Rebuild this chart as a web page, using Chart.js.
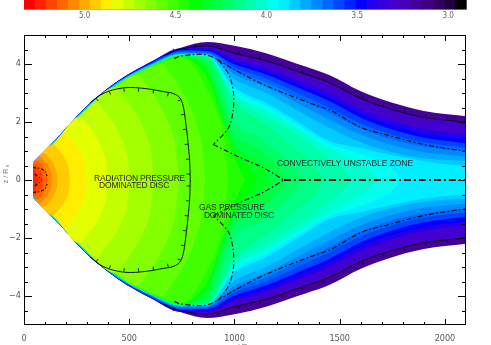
<!DOCTYPE html>
<html><head><meta charset="utf-8">
<script src="https://cdn.jsdelivr.net/npm/chart.js@4.4.1/dist/chart.umd.min.js"></script>
<style>
html,body{margin:0;padding:0;background:#fff;}
#wrap{position:relative;width:491px;height:345px;overflow:hidden;}
canvas{position:absolute;left:0;top:0;}
</style></head><body>
<div id="wrap"><canvas id="main" width="491" height="345"></canvas><canvas id="cb" width="491" height="24"></canvas></div>
<script>
// ---------- tick labels ----------
const xTickValues = [0, 500, 1000, 1500, 2000];
const xTickLabels = ['0', '500', '1000', '1500', '2000'];
const yTickValues = [-4, -2, 0, 2, 4];
const yTickLabels = ['\u22124', '\u22122', '0', '2', '4'];
const cbTickValues = [5.0, 4.5, 4.0, 3.5, 3.0];
const cbTickLabels = ['5.0', '4.5', '4.0', '3.5', '3.0'];

// ---------- colour bar (level edges, high -> low) ----------
const cbLevels = [5.334,5.273,5.212,5.151,5.090,5.030,4.969,4.908,4.847,4.786,4.725,4.664,4.603,4.542,4.481,4.421,4.360,4.299,4.238,4.177,4.116,4.055,3.994,3.933,3.872,3.812,3.751,3.690,3.629,3.568,3.507,3.446,3.385,3.324,3.263,3.203,3.142,3.081,3.020,2.959,2.898];
const cbColors = ['#ff0000','#ff2200','#ff4400','#ff6600','#ff8800','#ffaa00','#ffcc00','#ffee00','#e4ff00','#c4ff00','#a4ff00','#84ff00','#62ff00','#42ff00','#22ff00','#00ff00','#00ff22','#00ff44','#00ff66','#00ff88','#00ffaa','#00ffcc','#00ffee','#00eeff','#00ccff','#00aaff','#0088ff','#0066ff','#0044ff','#0022ff','#0000ff','#2200ee','#3300dd','#4400cc','#4800b4','#46009a','#3e0080','#320062','#1e0040','#000000'];

// ---------- outer shell contours (upper half, z at rGrid) ----------
const rGrid = [43,150,300,450,600,750,870,1000,1150,1300,1450,1600,1750,1900,2100];
const zEnv = [0.6,1.39,2.56,3.43,4.06,4.57,4.76,4.63,4.37,4.0,3.62,3.06,2.66,2.38,2.2];
const zL33 = [0.6,1.39,2.56,3.43,4.06,4.56,4.62,4.37,4.11,3.74,3.36,2.81,2.43,2.16,2.0];
const zL31 = [0.6,1.39,2.56,3.43,4.06,4.555,4.55,4.17,3.86,3.44,3.01,2.45,2.04,1.76,1.57];
const zL30 = [0.6,1.39,2.56,3.42,4.05,4.52,4.5,4.07,3.74,3.29,2.84,2.28,1.89,1.61,1.43];
const zL28 = [0.6,1.39,2.55,3.41,4.03,4.47,4.45,3.99,3.64,3.19,2.72,2.15,1.74,1.46,1.27];
const zL27 = [0.6,1.385,2.545,3.4,3.99,4.43,4.42,3.88,3.49,3.0,2.49,1.94,1.56,1.29,1.12];
const zL26 = [0.6,1.38,2.54,3.39,3.98,4.4,4.38,3.76,3.36,2.84,2.32,1.78,1.4,1.15,0.99];
const zL25 = [0.6,1.375,2.53,3.38,3.97,4.37,4.35,3.65,3.21,2.65,2.09,1.56,1.2,0.96,0.82];
const zL24 = [0.59,1.37,2.52,3.37,3.96,4.35,4.32,3.48,3.0,2.4,1.8,1.3,0.96,0.75,0.65];
const zL23 = [0.585,1.36,2.51,3.36,3.95,4.33,4.3,3.2,2.66,2.01,1.35,1.1,0.85,0.65,0.48];

// ---------- inner contours (upper half, [r, z]) ----------
const L22 = [[43,0.58],[150,1.355],[300,2.505],[450,3.355],[600,3.945],[750,4.325],[870,4.29],[1000,3.12],[1150,2.55],[1300,1.9],[1450,1.25],[1600,0.9],[1700,0.6],[1760,0.3],[1790,0]];
const L21 = [[43,0.575],[150,1.35],[300,2.5],[450,3.35],[600,3.94],[750,4.32],[870,4.28],[1000,2.97],[1150,2.4],[1300,1.75],[1450,1.1],[1550,0.72],[1640,0.32],[1681,0]];
const L20 = [[43,0.57],[150,1.345],[300,2.495],[450,3.345],[600,3.935],[750,4.315],[870,4.27],[1000,2.82],[1150,2.2],[1300,1.55],[1420,0.9],[1510,0.4],[1552,0]];
const L19 = [[43,0.565],[150,1.34],[300,2.49],[450,3.34],[600,3.93],[750,4.31],[870,4.26],[1000,2.68],[1150,1.9],[1280,1.15],[1380,0.5],[1424,0]];
const L18 = [[43,0.56],[150,1.335],[300,2.485],[450,3.335],[600,3.925],[750,4.305],[870,4.24],[1000,2.03],[1120,1.45],[1230,0.8],[1290,0.35],[1314,0]];
const L17 = [[43,0.555],[150,1.33],[300,2.48],[450,3.33],[600,3.92],[750,4.3],[810,4.25],[870,4.08],[1000,1.6],[1100,1.15],[1190,0.6],[1250,0]];
const L16 = [[43,0.55],[150,1.325],[300,2.475],[450,3.325],[600,3.915],[750,4.29],[810,4.2],[870,3.9],[1000,1.25],[1100,0.72],[1150,0.35],[1171,0]];
const L15 = [[43,0.55],[150,1.32],[300,2.47],[450,3.32],[600,3.91],[750,4.28],[810,4.15],[870,3.7],[1000,0.95],[1070,0.45],[1110,0]];
const L14 = [[43,0.55],[150,1.315],[300,2.465],[450,3.315],[600,3.905],[750,4.27],[810,4.05],[870,3.55],[960,1.7],[1010,0.6],[1050,0]];
const L13 = [[43,0.55],[150,1.31],[300,2.46],[450,3.31],[600,3.9],[750,4.25],[800,3.99],[870,3.12],[920,2.25],[955,1.26],[971,0]];
const L12 = [[43,0.55],[150,1.31],[300,2.46],[450,3.3],[600,3.89],[655,4.0],[700,3.64],[760,2.94],[810,2.13],[845,1.23],[862,0]];
const L11 = [[43,0.55],[150,1.31],[300,2.46],[450,3.3],[538,3.64],[580,3.30],[630,2.78],[680,2.08],[715,1.33],[738,0]];
const L10 = [[43,0.55],[150,1.31],[300,2.46],[431,3.2],[470,2.92],[520,2.43],[570,1.75],[600,1.10],[619,0]];
const L9  = [[43,0.55],[150,1.31],[300,2.46],[341,2.69],[380,2.41],[420,2.03],[460,1.51],[490,0.88],[505,0]];
const L8  = [[43,0.55],[150,1.31],[262,2.17],[300,1.92],[340,1.53],[370,1.10],[390,0.64],[400,0]];
const L7  = [[43,0.55],[150,1.31],[194,1.64],[220,1.46],[250,1.18],[275,0.84],[290,0.52],[299,0]];
const L6  = [[43,0.55],[138,1.22],[160,1.08],[180,0.90],[200,0.65],[212,0.40],[219,0]];
const L5  = [[43,0.55],[96,0.92],[115,0.80],[130,0.67],[145,0.48],[155,0.27],[160,0]];
const L4  = [[43,0.55],[76,0.79],[95,0.68],[110,0.55],[122,0.39],[130,0.21],[133,0]];
const L3  = [[43,0.55],[61,0.68],[75,0.60],[90,0.48],[100,0.36],[108,0.21],[112,0]];
const L2  = [[43,0.55],[55,0.52],[65,0.46],[75,0.37],[85,0.23],[90,0]];
const L1  = [[43,0.38],[50,0.335],[55,0.29],[60,0.23],[65,0.15],[68,0]];

// ---------- line contours (upper half) ----------
const photoLine = [[665,4.28],[700,4.4],[750,4.52],[870,4.62],[1000,4.37],[1150,4.11],[1300,3.74],[1450,3.36],[1600,2.81],[1750,2.43],[1900,2.16],[2100,2.0]];
const radLine = [[314,2.66],[360,2.92],[420,3.1],[505,3.19],[600,3.13],[660,3.05],[719,2.95],[745,2.78],[757,2.53],[768,2.0],[781,1.16],[788,0.5],[790,0]];
const convA = [[714,4.19],[743,4.27],[800,4.32],[853,4.33],[917,4.16],[955,3.85],[981,3.5],[996,2.95],[993,2.37],[972,1.8],[900,1.22]];
const convA2 = [[900,1.22],[1013,0.82],[1139,0.42],[1235,0]];
const convB = [[917,4.16],[1013,3.75],[1139,3.29],[1252,2.95],[1377,2.6],[1457,2.4],[1600,1.81],[1727,1.55],[1917,1.2],[2100,0.99]];
const convMid = [[1235,0],[2100,0]];
const coreArc = [[44,0.42],[75,0.40],[100,0.30],[110,0.14]];
const coreV = [[52,0.2],[85,0.03]];

// ---------- build ----------
const grid = z => rGrid.map((r, i) => [r, z[i]]);
const fillLevels = [
  {p: grid(zEnv), c: 35}, {p: grid(zL33), c: 33}, {p: grid(zL31), c: 31}, {p: grid(zL30), c: 30},
  {p: grid(zL28), c: 28}, {p: grid(zL27), c: 27}, {p: grid(zL26), c: 26}, {p: grid(zL25), c: 25},
  {p: grid(zL24), c: 24}, {p: grid(zL23), c: 23},
  {p: L22, c: 22}, {p: L21, c: 21}, {p: L20, c: 20}, {p: L19, c: 19}, {p: L18, c: 18},
  {p: L17, c: 17}, {p: L16, c: 16}, {p: L15, c: 15}, {p: L14, c: 14}, {p: L13, c: 13},
  {p: L12, c: 12}, {p: L11, c: 11}, {p: L10, c: 10}, {p: L9, c: 9}, {p: L8, c: 8},
  {p: L7, c: 7}, {p: L6, c: 6}, {p: L5, c: 5}, {p: L4, c: 4}, {p: L3, c: 3}, {p: L2, c: 2}, {p: L1, c: 1}
];
const xy = (pts, s) => pts.map(q => ({x: q[0], y: s * q[1]}));
const datasets = [];
fillLevels.forEach((lv, k) => {
  [1, -1].forEach(s => datasets.push({
    data: xy(lv.p, s), backgroundColor: cbColors[lv.c], borderColor: 'rgba(0,0,0,0)', borderWidth: 0,
    pointRadius: 0, fill: 'origin', cubicInterpolationMode: 'monotone', order: 200 - k
  }));
});
const DASH = [5, 2.5, 1.5, 2.5];
function lineDs(pts, s, extra) {
  return Object.assign({data: xy(pts, s), borderColor: '#000', borderWidth: 0.9, pointRadius: 0, fill: false,
    cubicInterpolationMode: 'monotone', order: 0}, extra || {});
}
[1, -1].forEach(s => {
  datasets.push(lineDs(photoLine, s, {tickSpec: {spacing: 22, len: 3, side: -s}}));
  datasets.push(lineDs(radLine, s, {tickSpec: {spacing: 15, len: 3.5, side: s}}));
  datasets.push(lineDs(convA, s, {borderDash: DASH, borderWidth: 1.1, cubicInterpolationMode: 'default', tension: 0.3}));
  datasets.push(lineDs(convA2, s, {borderDash: DASH, borderWidth: 1.1, cubicInterpolationMode: 'default', tension: 0}));
  datasets.push(lineDs(convB, s, {borderDash: DASH, borderWidth: 1.1}));
  datasets.push(lineDs(coreArc, s, {borderDash: [3, 2, 1, 2], borderWidth: 1.1, cubicInterpolationMode: 'default', tension: 0.3}));
  datasets.push(lineDs(coreV, s, {borderDash: [3, 2, 1, 2], borderWidth: 1.1, tension: 0}));
});
datasets.push(lineDs(convMid, 1, {borderDash: [7, 3, 2, 3], borderWidth: 2, tension: 0}));

const textLabels = [
  {t: 'RADIATION PRESSURE', r: 549, z: 0.06, w: 91},
  {t: 'DOMINATED DISC', r: 523, z: -0.21, w: 70},
  {t: 'GAS PRESSURE', r: 988, z: -0.95, w: 66},
  {t: 'DOMINATED DISC', r: 1021, z: -1.24, w: 70},
  {t: 'CONVECTIVELY UNSTABLE ZONE', r: 1525, z: 0.55, w: 136}
];

const FONT = '"Liberation Sans Narrow", "DejaVu Sans Condensed", "Liberation Sans", sans-serif';

function contourTicks(ctx, pts, spacing, len, side) {
  let acc = spacing / 2;
  for (let i = 0; i < pts.length - 1; i++) {
    const a = pts[i], b = pts[i + 1];
    const dx = b.x - a.x, dy = b.y - a.y, L = Math.hypot(dx, dy);
    if (!L) continue;
    const ux = dx / L, uy = dy / L, nx = side * -uy, ny = side * ux;
    let t = acc;
    while (t <= L) {
      const px = a.x + ux * t, py = a.y + uy * t;
      ctx.moveTo(px, py); ctx.lineTo(px + nx * len, py + ny * len);
      t += spacing;
    }
    acc = t - L;
  }
}

const decor = {
  id: 'decor',
  afterDatasetsDraw(chart) {
    const {ctx, chartArea: a, scales: {x, y}} = chart;
    ctx.save();
    ctx.beginPath(); ctx.rect(a.left, a.top, a.right - a.left, a.bottom - a.top); ctx.clip();
    chart.data.datasets.forEach((ds, i) => {
      if (!ds.tickSpec) return;
      const pts = chart.getDatasetMeta(i).data.map(p => ({x: p.x, y: p.y}));
      ctx.beginPath(); ctx.strokeStyle = '#000'; ctx.lineWidth = 0.8;
      contourTicks(ctx, pts, ds.tickSpec.spacing, ds.tickSpec.len, ds.tickSpec.side);
      ctx.stroke();
    });
    // text labels
    ctx.fillStyle = '#2a2a2a';
    ctx.font = '8.5px "Liberation Sans", sans-serif';
    ctx.textAlign = 'center'; ctx.textBaseline = 'middle';
    textLabels.forEach(l => {
      ctx.letterSpacing = '0px';
      const m = ctx.measureText(l.t).width;
      ctx.letterSpacing = ((l.w - m) / l.t.length).toFixed(2) + 'px';
      ctx.fillText(l.t, x.getPixelForValue(l.r), y.getPixelForValue(l.z));
    });
    ctx.letterSpacing = '0px';
    ctx.restore();
    // frame + inward ticks
    ctx.save();
    ctx.strokeStyle = '#000'; ctx.lineWidth = 1;
    ctx.strokeRect(a.left + 0.5, a.top + 0.5, a.right - a.left - 1, a.bottom - a.top - 1);
    ctx.beginPath();
    for (let v = 100; v < 2100; v += 100) {
      const px = Math.round(x.getPixelForValue(v)) + 0.5, len = v % 500 === 0 ? 6 : 3;
      ctx.moveTo(px, a.bottom); ctx.lineTo(px, a.bottom - len);
      ctx.moveTo(px, a.top); ctx.lineTo(px, a.top + len);
    }
    for (let v = -4.5; v < 5; v += 0.5) {
      const py = Math.round(y.getPixelForValue(v)) + 0.5, len = Math.abs(v % 2) < 1e-9 ? 8 : 4;
      ctx.moveTo(a.left, py); ctx.lineTo(a.left + len, py);
      ctx.moveTo(a.right, py); ctx.lineTo(a.right - len, py);
    }
    ctx.stroke();
    // axis titles
    ctx.fillStyle = '#777';
    ctx.font = '7px "Liberation Sans", sans-serif';
    ctx.save();
    ctx.translate(6, 176); ctx.rotate(-Math.PI / 2);
    ctx.textAlign = 'center'; ctx.textBaseline = 'middle';
    ctx.fillText('z / R', 0, 0);
    ctx.font = '5px "Liberation Sans", sans-serif';
    ctx.fillText('s', 10, 2);
    ctx.restore();
    ctx.font = '8px "Liberation Sans", sans-serif';
    ctx.textAlign = 'center'; ctx.textBaseline = 'top';
    ctx.fillText('r / R', 240, 343);
    ctx.font = '6px "Liberation Sans", sans-serif';
    ctx.fillText('s', 252, 346);
    ctx.restore();
  }
};

new Chart(document.getElementById('main'), {
  type: 'line',
  data: {datasets},
  options: {
    responsive: false, animation: false, events: [],
    layout: {padding: {left: 0, right: 25, top: 35, bottom: 0}},
    plugins: {legend: {display: false}, tooltip: {enabled: false}, filler: {propagate: false}},
    scales: {
      x: {type: 'linear', min: 0, max: 2100,
        afterBuildTicks: s => { s.ticks = xTickValues.map(v => ({value: v})); },
        afterFit: s => { s.height = 20; },
        grid: {display: false, drawTicks: false}, border: {display: false},
        ticks: {color: '#555', padding: 8, maxRotation: 0, autoSkip: false, font: {family: FONT, size: 9},
          callback: v => xTickLabels[xTickValues.indexOf(v)]}},
      y: {type: 'linear', min: -5, max: 5,
        afterBuildTicks: s => { s.ticks = yTickValues.map(v => ({value: v})); },
        afterFit: s => { s.width = 24; },
        grid: {display: false, drawTicks: false}, border: {display: false},
        ticks: {color: '#555', padding: 3, autoSkip: false, font: {family: FONT, size: 9},
          callback: v => yTickLabels[yTickValues.indexOf(v)]}}
    }
  },
  plugins: [decor]
});

// ---------- colour bar ----------
new Chart(document.getElementById('cb'), {
  type: 'bar',
  data: {labels: ['cb'], datasets: [{
    data: cbColors.map((c, i) => ({y: 'cb', x: [cbLevels[i + 1], cbLevels[i]]})),
    backgroundColor: cbColors, borderWidth: 0, categoryPercentage: 1, barPercentage: 1
  }]},
  options: {
    indexAxis: 'y', responsive: false, animation: false, events: [],
    layout: {padding: {left: 24, right: 24.3, top: 0, bottom: 0}},
    plugins: {legend: {display: false}, tooltip: {enabled: false}},
    scales: {
      x: {type: 'linear', reverse: true, min: cbLevels[cbLevels.length - 1], max: cbLevels[0],
        afterBuildTicks: s => { s.ticks = cbTickValues.map(v => ({value: v})); },
        afterFit: s => { s.height = 14.5; },
        grid: {display: false, drawTicks: false}, border: {display: true, color: '#aaa'},
        ticks: {color: '#666', padding: 2, maxRotation: 0, autoSkip: false, font: {family: FONT, size: 8},
          callback: v => cbTickLabels[cbTickValues.indexOf(v)]}},
      y: {display: false}
    }
  }
});
</script></body></html>
